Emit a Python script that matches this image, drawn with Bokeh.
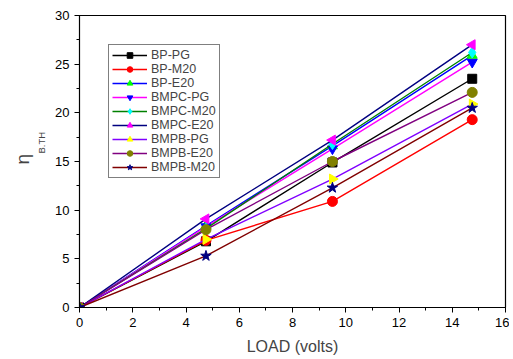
import math
from bokeh.plotting import figure
from bokeh.models import (ColumnDataSource, Legend, LegendItem, FixedTicker,
                          Title, Range1d)
from bokeh.embed import file_html
from bokeh.resources import INLINE

load = [0, 4.75, 9.5, 14.75]

names = ["BP-PG", "BP-M20", "BP-E20", "BMPC-PG", "BMPC-M20", "BMPC-E20",
         "BMPB-PG", "BMPB-E20", "BMPB-M20"]
bp_pg = [0, 6.8, 14.9, 23.5]
bp_m20 = [0, 6.9, 10.9, 19.3]
bp_e20 = [0, 8.4, 16.6, 25.9]
bmpc_pg = [0, 8.3, 16.3, 25.2]
bmpc_m20 = [0, 8.1, 16.8, 26.2]
bmpc_e20 = [0, 9.1, 17.2, 27.0]
bmpb_pg = [0, 7.0, 13.2, 20.9]
bmpb_e20 = [0, 8.0, 15.0, 22.1]
bmpb_m20 = [0, 5.3, 12.3, 20.5]
series = [bp_pg, bp_m20, bp_e20, bmpc_pg, bmpc_m20, bmpc_e20, bmpb_pg, bmpb_e20, bmpb_m20]

line_colors = ["#000000", "#ff0000", "#0000ff", "#ff00ff", "#008000", "#000080",
               "#8000ff", "#800080", "#800000"]
marker_colors = ["#000000", "#ff0000", "#00ff00", "#0000ff", "#00ffff", "#ff00ff",
                 "#ffff00", "#808000", "#000080"]
markers = ["square", "circle", "triangle", "inverted_triangle", "diamond", "triangle",
           "triangle", "circle", "star"]
angles = [0, 0, 0, 0, 0, math.pi / 2, -math.pi / 2, 0, 0]
sizes = [9, 10, 10, 10, 11, 10, 10, 10, 11]

x_ticks = [0, 2, 4, 6, 8, 10, 12, 14, 16]
y_ticks = [0, 5, 10, 15, 20, 25, 30]

FONT = "Liberation Sans"

p = figure(width=509, height=357, output_backend="svg", toolbar_location=None,
           x_range=Range1d(0, 16), y_range=Range1d(0, 30),
           min_border_left=79, min_border_right=4, min_border_top=15, min_border_bottom=48)
p.grid.visible = False
p.outline_line_color = "black"
p.outline_line_width = 1.2

items = []
for i, (nm, ys) in enumerate(zip(names, series)):
    src = ColumnDataSource(dict(x=load, y=ys))
    r1 = p.line("x", "y", source=src, line_color=line_colors[i], line_width=1.4)
    r2 = p.scatter("x", "y", source=src, marker=markers[i], size=sizes[i],
                   fill_color=marker_colors[i], line_color=marker_colors[i],
                   angle=angles[i])
    items.append(LegendItem(label=nm, renderers=[r1, r2]))

legend = Legend(items=items, location="top_left", margin=29, padding=3, spacing=0,
                glyph_width=35, glyph_height=14, label_height=14, label_standoff=4,
                label_text_font=FONT, label_text_font_size="12.5px",
                border_line_color="black", border_line_width=1,
                background_fill_alpha=1)
p.add_layout(legend, "center")

for ax in [p.xaxis[0], p.yaxis[0]]:
    ax.major_label_text_font = FONT
    ax.major_label_text_font_size = "13px"
    ax.major_label_text_color = "black"
    ax.axis_line_color = "black"
    ax.major_tick_out = 5
    ax.major_tick_in = 0
    ax.minor_tick_out = 3
    ax.minor_tick_in = 0
    ax.axis_label_text_font = FONT
    ax.axis_label_text_font_style = "normal"

p.xaxis[0].ticker = FixedTicker(ticks=x_ticks, minor_ticks=list(range(0, 17)))
p.yaxis[0].ticker = FixedTicker(ticks=y_ticks, minor_ticks=[v * 2.5 for v in range(13)])
p.xaxis[0].axis_label = "LOAD (volts)"
p.xaxis[0].axis_label_text_font_size = "16px"
p.xaxis[0].axis_label_standoff = 8
p.yaxis[0].axis_label = None

sub = Title(text="B.TH", align="left", offset=154, text_font=FONT,
            text_font_size="9.5px", text_font_style="normal", standoff=11)
eta = Title(text="η", align="left", offset=143, text_font=FONT,
            text_font_size="19px", text_font_style="normal", standoff=-9)
p.add_layout(sub, "left")
p.add_layout(eta, "left")

open("out.html", "w").write(file_html(p, INLINE))
